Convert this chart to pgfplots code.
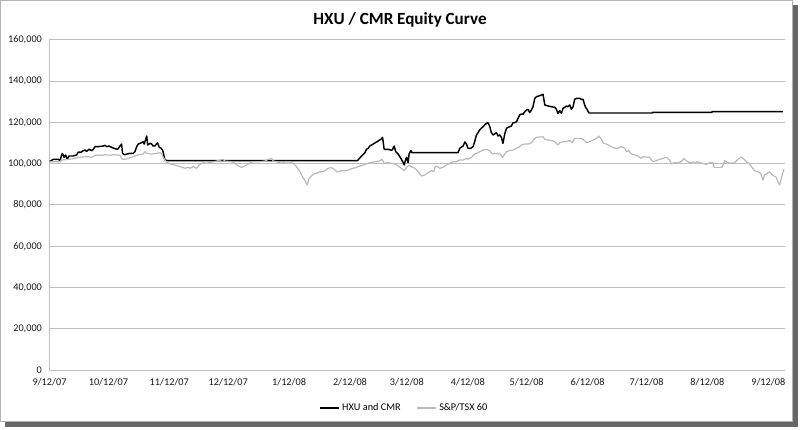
\documentclass[border=0pt]{standalone}
\usepackage{fontspec}
\setmainfont{Carlito}
\usepackage{pgfplots}
\usepackage{pgfplotstable}
\pgfplotsset{compat=1.18}
\definecolor{gridgray}{RGB}{190,190,190}
\definecolor{spgray}{RGB}{185,185,185}
\pgfplotstableread{
d v
0 101000
1.9 102150
4.5 102150
5.3 101500
6.5 105050
7.5 103100
8.2 104250
9.1 102150
9.9 103750
12.1 103750
13.8 104250
14.7 105700
16 105550
17.2 106350
18.1 106650
18.9 106000
20.1 107000
21.5 106350
22.3 107000
23.2 108300
24.8 108300
27.4 108600
28.2 108950
29.1 108300
30.3 108600
31.6 107950
33.3 107300
34.7 107000
35.9 108600
36.7 109550
37.2 105050
38.1 104400
41 105050
42.7 105050
43.5 105850
44.4 108300
45.2 109550
46.9 110200
47.7 110700
48.2 109550
49.5 113450
50 109100
51.1 109900
52 109550
52.8 108600
53.6 108600
55 110200
55.9 107950
56.7 107650
57.6 106650
58.8 101800
60.5 101500
156.8 101500
158.9 103750
160.6 105350
161.4 107000
162.3 107500
163.1 108600
164.8 109550
166.5 110550
167.7 111200
168.7 111850
169.6 112800
170.4 107000
172.4 107000
173.8 106650
174.5 106650
175.5 108600
176.3 105850
177.5 104700
178.4 103400
179.2 102150
180.1 100550
180.6 99400
181.3 101800
181.8 103100
182.6 100550
183.1 104700
184 106350
184.6 105350
208 105350
208.9 107500
210.6 108600
211.5 110550
212.3 109550
213.1 107500
214.5 107500
215.7 108300
216.5 110700
217.4 113950
218.2 115050
219.1 116500
220.8 118000
221.6 118800
222.5 119600
223.3 119900
224.2 118000
225 115050
225.9 113950
226.7 114450
227.6 115050
228.4 113450
229.3 113950
230.1 112800
230.9 109900
231.8 114450
232.7 117200
234.4 118000
235.2 118300
236 119900
236.9 119900
237.8 120400
238.6 122000
239.4 123650
240.3 124100
241.1 123950
242 125250
242.9 126050
243.7 126400
244.5 124750
245.4 126050
246.2 127650
247.1 131700
247.9 132500
249.6 133000
251.3 133650
252.2 128500
253.9 128000
255.6 127650
257.3 127350
258.1 126400
258.9 124450
259.8 125750
260.6 124450
261.5 126850
262.3 127350
263.2 128000
264 127650
264.9 128500
265.7 126400
266.6 127650
267.4 131200
268.3 131700
270 131700
270.8 131200
271.7 131200
272.5 128500
273 127350
273.7 126400
274.7 124600
307 124600
307.1 124900
337.3 124900
337.4 125300
373.4 125300
}\hxu
\pgfplotstableread{
d v
0 101000
5.3 101000
6.2 101800
9.6 102150
13 102600
14.7 103100
18.1 103400
19.8 103400
21.5 103100
23.2 104100
26.6 104100
28.2 104400
30.8 104100
32.5 104400
35.9 104100
37 102150
38.4 102150
40.1 102600
43.5 103750
45.2 104400
47.7 104700
48.6 105850
49.5 105050
52 104700
54.5 105050
56.2 105350
57 105050
57.9 103100
58.8 101800
59.6 100700
62.2 99700
63.9 99400
65.6 98900
69 97800
70.7 98250
71.5 97800
73.2 98600
74.9 97800
76.2 99400
78.3 100550
80 101000
81.7 100550
85.1 101300
88.4 102150
89.3 101300
92.7 101000
94.4 100200
96.1 98900
97.8 98250
99.5 98900
101.2 99900
102.9 100850
104.6 101000
107.1 101000
109.7 101300
111.4 102150
113.1 102600
113.9 101300
115.6 101000
118.2 100200
119.9 100850
122.4 100850
124.1 100200
125.8 98600
127.5 96150
129.2 92950
130 92100
131.2 89700
132.2 92950
133.4 94050
134.6 95050
136 95350
137.7 96150
139 96150
140.2 96650
141.9 97800
143.1 98100
144.4 97800
146.5 95900
148.7 96650
151.2 96650
152.9 97300
154.6 97800
156.3 98250
158 98900
159.7 99400
161.4 99900
163.1 100550
166.5 101000
168.2 101500
169.4 102150
170.4 100200
172.4 100550
174.1 100200
175.8 99900
177.5 98900
179.2 97800
180.6 96650
181.8 98250
183 99250
184.3 98600
186 97800
187.7 96150
189.4 94050
191.1 94550
192.8 95650
194.5 96650
195.7 96150
196.2 98250
197.1 98900
198.7 97800
200.4 98250
202.1 99400
203.8 100200
205.5 101000
207.2 101000
208.9 101800
210.6 101800
212.3 102600
213.1 102150
214.9 103100
216.5 104700
218.2 105350
219.1 105850
220.8 106650
222.5 107000
224.2 106350
225.5 104700
226.7 105050
228.4 104700
229.6 104700
230.6 103100
231.8 104700
232.7 105850
234.4 106350
236 106650
237.8 107500
239.4 108300
240.3 109100
242 109550
243.7 109550
245.4 110200
246.6 111850
247.9 112800
251.3 113100
252.2 111850
253.9 111500
255.6 111200
257.3 110700
258.9 109100
259.8 110200
261.5 110700
263.2 110700
264.9 111200
266.2 110200
267.4 112300
270.8 112300
272.5 111200
273.4 110200
275.1 110700
276.8 111500
278.5 112300
279.8 113450
281 111850
282.2 109900
283.5 109550
286.1 108300
287.8 107500
289.5 107500
291.2 108300
292.9 107500
293.7 105850
295 106350
296.3 104700
298 104250
299.7 103750
300.5 103100
301.4 102600
302.2 103400
305.6 103100
307.3 101000
309 101500
310.7 102150
312.4 102600
314.1 103100
315.8 101800
316.6 99900
318 100550
320 100550
321.7 101000
323.1 102600
324.2 101500
325.9 100550
327.6 100850
328.9 100200
329.9 101000
331.1 100550
332.8 100200
334.5 99700
336.2 100550
337.9 100550
338.4 98250
342.4 98250
343.8 101500
345.5 100550
347.2 100200
348.9 100550
350.6 102150
352 103100
353.2 102600
354.9 101000
356.1 100200
357.4 98600
359 96650
360.4 96150
362.1 95350
363.3 92100
364.1 94550
365.5 95350
366.7 96150
367.6 95050
368.9 94050
370.1 93450
370.9 91300
371.8 89700
372.6 92950
374 97300
}\tsx
\begin{document}
\begin{tikzpicture}[x=0.75pt,y=0.75pt]
\path[use as bounding box] (0,0) rectangle (800,429);
\coordinate (plotorigin) at (49.5,59);
% frame and shadow
\fill[black!60] (793,2) rectangle (798,424);
\fill[black!60] (5,2) rectangle (798,7);
\draw[black!30, line width=0.75pt] (0.5,7.5) rectangle (792.5,428.5);
\node[font=\bfseries\fontsize{12.8}{15}\selectfont] at (400,409) {HXU / CMR Equity Curve};
\begin{axis}[
  at={(plotorigin)}, anchor=south west,
  scale only axis, width=551.6pt, height=247.5pt,
  xmin=0, xmax=374.5, ymin=0, ymax=160000,
  axis x line*=bottom, axis y line*=left,
  axis line style={draw=gridgray, line width=0.75pt, -},
  ymajorgrids, grid style={gridgray, line width=0.75pt},
  major tick length=0pt,
  ytick={0,20000,40000,60000,80000,100000,120000,140000,160000},
  scaled y ticks=false,
  /pgf/number format/fixed,
  /pgf/number format/1000 sep={,},
  /pgf/number format/assume math mode=true,
  xtick={0,30,61,91,122,153,182,213,243,274,304,335,366},
  xticklabels={9/12/07,10/12/07,11/12/07,12/12/07,1/12/08,2/12/08,3/12/08,4/12/08,5/12/08,6/12/08,7/12/08,8/12/08,9/12/08},
  tick label style={font=\fontsize{7.7}{9}\selectfont, text=black!90},
  yticklabel style={inner sep=0pt, xshift=-5.5pt},
  xticklabel style={inner sep=0pt, yshift=-6pt},
  legend style={at={(0.483,-0.115)}, anchor=center, draw=none, fill=none,
    font=\fontsize{7.7}{9}\selectfont, legend columns=2,
    /tikz/every even column/.append style={column sep=10pt}},
  legend image code/.code={\draw[#1] (0pt,0pt) -- (14pt,0pt);},
  clip=false,
]
\addplot[black, line width=1.1pt, line join=round] table[x=d, y=v] {\hxu};
\addlegendentry{HXU and CMR}
\addplot[spgray, line width=0.9pt, line join=round] table[x=d, y=v] {\tsx};
\addlegendentry{S\&P/TSX 60}
\end{axis}
\end{tikzpicture}
\end{document}
